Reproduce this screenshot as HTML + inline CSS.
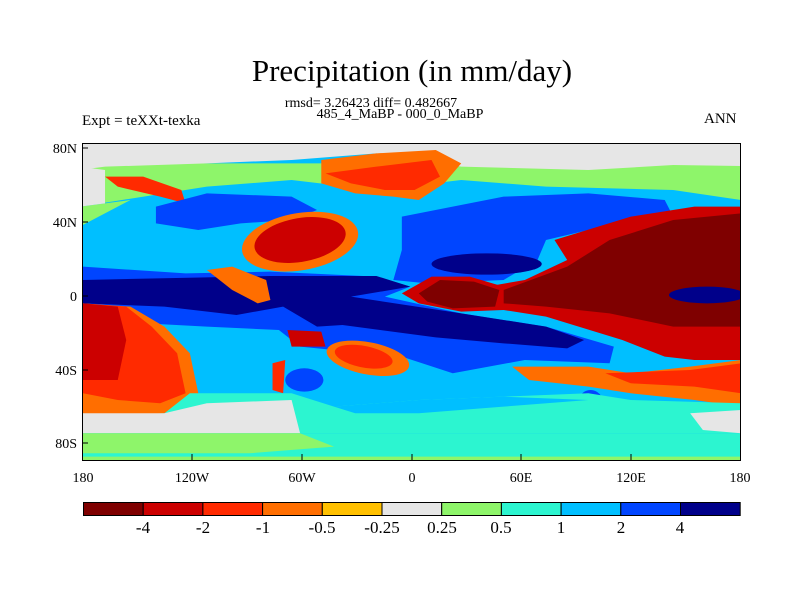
<!DOCTYPE html>
<html><head><meta charset="utf-8"><style>
body{margin:0;background:#fff;width:800px;height:600px;overflow:hidden;position:relative;font-family:"Liberation Serif",serif}
.t{position:absolute;white-space:nowrap;color:#000}
</style></head><body>
<div class="t" style="left:0;width:824px;text-align:center;top:53px;font-size:31px">Precipitation (in mm/day)</div>
<div class="t" style="left:0;width:742px;text-align:center;top:96px;font-size:14px">rmsd= 3.26423 diff= 0.482667</div>
<div class="t" style="left:0;width:800px;text-align:center;top:107px;font-size:14px">485_4_MaBP - 000_0_MaBP</div>
<div class="t" style="left:82px;top:113px;font-size:15px">Expt = teXXt-texka</div>
<div class="t" style="left:704px;top:111px;font-size:15px">ANN</div>

<svg style="position:absolute;left:0;top:0" width="800" height="600">
<defs><clipPath id="c"><rect x="83" y="143" width="658" height="317"/></clipPath></defs>
<g clip-path="url(#c)"><g transform="translate(79.6,140) scale(0.424,0.3333)">
<rect x="0" y="0" width="1665" height="975" fill="#00bfff"/>
<path d="M0,70 H1665 V200 L1400,150 L1100,140 L900,120 L700,150 L500,120 L300,140 L100,180 L0,200Z" fill="#8ef56a"/>
<path d="M0,200 L120,180 L0,260Z" fill="#8ef56a"/>
<path d="M0,0 H1665 V80 L1400,75 L1200,90 L900,80 L700,40 L500,60 L300,70 L60,80 L0,90Z" fill="#e6e6e6"/>
<path d="M0,80 L60,90 L60,190 L0,200Z" fill="#e6e6e6"/>
<path d="M570,60 L700,40 L840,30 L900,70 L860,130 L800,180 L740,170 L650,160 L570,130Z" fill="#ff6e00"/>
<path d="M580,100 L700,80 L830,60 L850,110 L790,150 L720,150 L640,130Z" fill="#ff2a00"/>
<path d="M60,110 L150,110 L240,150 L250,190 L190,170 L90,140Z" fill="#ff2a00"/>
<path d="M180,200 L300,160 L500,170 L560,210 L500,240 L380,250 L280,270 L180,250Z" fill="#0045ff"/>
<path d="M760,230 L1000,170 L1200,160 L1380,180 L1400,230 L1200,270 L1100,300 L1080,360 L1000,420 L820,430 L740,420 L760,330Z" fill="#0045ff"/>
<ellipse cx="960" cy="372" rx="130" ry="32" fill="#00008a"/>
<path d="M8,380 L250,400 L450,395 L700,410 L780,440 L720,470 L900,520 L1100,560 L1260,620 L1250,670 L1050,660 L880,700 L760,650 L600,630 L520,620 L470,570 L300,560 L8,540Z" fill="#0045ff"/>
<path d="M8,420 L300,412 L450,408 L700,408 L780,440 L640,470 L900,520 L1100,560 L1190,600 L1150,625 L1000,610 L840,592 L620,555 L560,560 L480,500 L370,525 L200,500 L8,490Z" fill="#00008a"/>
<ellipse cx="520" cy="305" rx="140" ry="85" transform="rotate(-15 520 305)" fill="#ff6e00"/>
<ellipse cx="520" cy="300" rx="110" ry="65" transform="rotate(-15 520 300)" fill="#cc0000"/>
<path d="M300,390 L360,380 L440,420 L450,480 L420,490 L360,450Z" fill="#ff6e00"/>
<path d="M1120,300 L1300,230 L1450,200 L1560,200 L1560,660 L1450,660 L1380,650 L1280,600 L1100,530 L1000,510 L960,440 L1050,420 L1150,360Z" fill="#cc0000"/>
<path d="M1000,450 L1150,380 L1250,300 L1400,240 L1560,220 L1560,560 L1400,560 L1250,520 L1100,500 L1000,490Z" fill="#7f0000"/>
<ellipse cx="1480" cy="465" rx="90" ry="25" fill="#00008a"/>
<path d="M760,460 L830,410 L920,410 L1000,440 L1000,510 L900,515 L800,490Z" fill="#cc0000"/>
<path d="M800,460 L850,420 L930,425 L990,450 L980,500 L880,505 L820,485Z" fill="#7f0000"/>
<path d="M1020,680 L1200,680 L1300,700 L1440,680 L1560,660 L1560,800 L1450,780 L1300,760 L1200,740 L1060,720Z" fill="#ff6e00"/>
<path d="M1240,700 L1440,690 L1560,670 L1560,760 L1450,740 L1300,730Z" fill="#ff2a00"/>
<path d="M8,490 L120,500 L200,560 L260,640 L280,760 L240,800 L180,830 L60,830 L8,820Z" fill="#ff6e00"/>
<path d="M8,490 L110,500 L170,560 L230,640 L250,760 L190,790 L90,780 L8,760Z" fill="#ff2a00"/>
<path d="M8,490 L90,500 L110,600 L90,720 L8,720Z" fill="#cc0000"/>
<ellipse cx="680" cy="655" rx="100" ry="48" transform="rotate(15 680 655)" fill="#ff6e00"/>
<ellipse cx="670" cy="650" rx="70" ry="32" transform="rotate(15 670 650)" fill="#ff2a00"/>
<path d="M490,570 L570,575 L580,620 L500,620Z" fill="#cc0000"/>
<path d="M455,670 L485,660 L480,760 L455,750Z" fill="#ff2a00"/>
<ellipse cx="530" cy="720" rx="45" ry="35" fill="#0045ff"/>
<ellipse cx="1205" cy="790" rx="30" ry="40" fill="#0045ff"/>
<path d="M260,760 L500,760 L600,800 L800,780 L1000,770 L1200,760 L1300,780 L1560,790 L1560,880 L0,880 L0,830 L200,820Z" fill="#2cf5d0"/>
<path d="M0,820 L200,820 L300,790 L500,780 L520,880 L0,880Z" fill="#e6e6e6"/>
<path d="M600,800 L800,780 L1000,770 L1200,780 L1000,800 L800,820 L650,820Z" fill="#00bfff"/>
<path d="M0,880 H1665 V975 H0Z" fill="#2cf5d0"/>
<path d="M0,880 L520,880 L600,920 L400,940 L0,940Z" fill="#8ef56a"/>
<path d="M0,950 H1665 V975 H0Z" fill="#8ef56a"/>
<path d="M1440,820 L1560,810 L1560,880 L1470,870Z" fill="#e6e6e6"/>
</g></g>
<rect x="82.5" y="143.5" width="658" height="317" fill="none" stroke="#000" stroke-width="1"/>
<g stroke="#000" stroke-width="1">
<line x1="82" y1="148" x2="88" y2="148"/><line x1="82" y1="222" x2="88" y2="222"/><line x1="82" y1="296" x2="88" y2="296"/><line x1="82" y1="370" x2="88" y2="370"/><line x1="82" y1="443" x2="88" y2="443"/>
<line x1="192" y1="460" x2="192" y2="454"/><line x1="302" y1="460" x2="302" y2="454"/><line x1="412" y1="460" x2="412" y2="454"/><line x1="521" y1="460" x2="521" y2="454"/><line x1="631" y1="460" x2="631" y2="454"/>
</g>
<g font-family="Liberation Serif, serif" font-size="14" fill="#000">
<text x="77" y="153" text-anchor="end">80N</text>
<text x="77" y="227" text-anchor="end">40N</text>
<text x="77" y="301" text-anchor="end">0</text>
<text x="77" y="375" text-anchor="end">40S</text>
<text x="77" y="448" text-anchor="end">80S</text>
<g text-anchor="middle">
<text x="83" y="482">180</text><text x="192" y="482">120W</text><text x="302" y="482">60W</text><text x="412" y="482">0</text><text x="521" y="482">60E</text><text x="631" y="482">120E</text><text x="740" y="482">180</text>
</g></g>
<g stroke="#000" stroke-width="1">
<rect x="83.5" y="502.5" width="59.7" height="13" fill="#7f0000"/>
<rect x="143.2" y="502.5" width="59.7" height="13" fill="#cc0000"/>
<rect x="202.9" y="502.5" width="59.7" height="13" fill="#ff2a00"/>
<rect x="262.6" y="502.5" width="59.7" height="13" fill="#ff6e00"/>
<rect x="322.3" y="502.5" width="59.7" height="13" fill="#ffc000"/>
<rect x="382" y="502.5" width="59.7" height="13" fill="#e6e6e6"/>
<rect x="441.7" y="502.5" width="59.7" height="13" fill="#8ef56a"/>
<rect x="501.4" y="502.5" width="59.7" height="13" fill="#2cf5d0"/>
<rect x="561.1" y="502.5" width="59.7" height="13" fill="#00bfff"/>
<rect x="620.8" y="502.5" width="59.7" height="13" fill="#0045ff"/>
<rect x="680.5" y="502.5" width="59.7" height="13" fill="#00008a"/>
</g>
<g font-family="Liberation Serif, serif" font-size="17" fill="#000" text-anchor="middle">
<text x="143" y="533">-4</text><text x="203" y="533">-2</text><text x="263" y="533">-1</text><text x="322" y="533">-0.5</text><text x="382" y="533">-0.25</text><text x="442" y="533">0.25</text><text x="501" y="533">0.5</text><text x="561" y="533">1</text><text x="621" y="533">2</text><text x="680" y="533">4</text>
</g>
</svg>
</body></html>
